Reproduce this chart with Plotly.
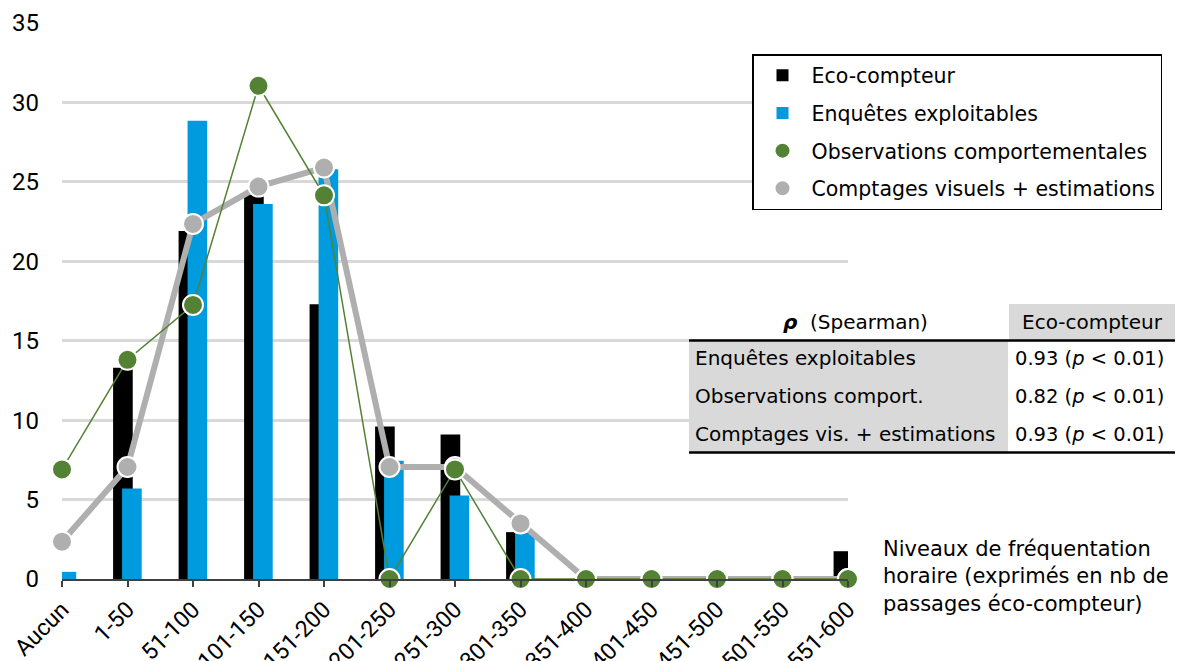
import plotly.graph_objects as go

categories = ["Aucun", "1-50", "51-100", "101-150", "151-200", "201-250", "251-300",
              "301-350", "351-400", "401-450", "451-500", "501-550", "551-600"]
eco_compteur = [0, 13.3, 21.9, 24.2, 17.3, 9.6, 9.1, 2.95, 0, 0, 0, 0, 1.75]
enquetes = [0.45, 5.7, 28.85, 23.6, 25.8, 7.45, 5.25, 2.9, 0, 0, 0, 0, 0]
observations = [6.9, 13.8, 17.25, 31.05, 24.15, 0, 6.9, 0, 0, 0, 0, 0, 0]
comptages = [2.35, 7.05, 22.35, 24.7, 25.9, 7.05, 7.05, 3.5, 0, 0, 0, 0, 0]

table_rows = ["Enquêtes exploitables", "Observations comport.", "Comptages vis. + estimations"]
table_rho = ["0.93", "0.82", "0.93"]
table_p = ["0.01", "0.01", "0.01"]

# page body has an 8px default margin: size the figure so it fits the window
OFF = 8
W, H = 1184 - OFF, 661 - OFF
L, R, T, B = 62, 848, 23, 579   # plot area in window pixels
FONT = "DejaVu Sans"
TICKFONT = "Roboto"
BLACK = "#000000"
BLUE = "#009ADE"
GREEN = "#548235"
GRAY = "#AFAFAF"


def px(x):
    return (x - L) / (R - L)


def py(y):
    return (B - y) / (B - T)


fig = go.Figure()
fig.add_trace(go.Bar(x=categories, y=eco_compteur, name="Eco-compteur",
                     marker=dict(color=BLACK, line=dict(width=0)),
                     width=0.30, offset=-0.22, legendrank=1, legendgroup="a"))
fig.add_trace(go.Bar(x=categories, y=enquetes, name="Enquêtes exploitables",
                     marker=dict(color=BLUE, line=dict(width=0)),
                     width=0.30, offset=-0.083, legendrank=2, legendgroup="b"))
fig.add_trace(go.Scatter(x=categories, y=comptages, mode="lines", showlegend=False,
                         line=dict(color=GRAY, width=6), legendgroup="d", cliponaxis=False))
fig.add_trace(go.Scatter(x=categories, y=observations, mode="lines", showlegend=False,
                         line=dict(color=GREEN, width=1.5), legendgroup="c", cliponaxis=False))
fig.add_trace(go.Scatter(x=categories, y=comptages, mode="markers",
                         name="Comptages visuels + estimations",
                         marker=dict(color=GRAY, size=20, line=dict(color="white", width=2)),
                         legendrank=4, legendgroup="d", cliponaxis=False))
fig.add_trace(go.Scatter(x=categories, y=observations, mode="markers",
                         name="Observations comportementales",
                         marker=dict(color=GREEN, size=20, line=dict(color="white", width=2)),
                         legendrank=3, legendgroup="c", cliponaxis=False))

shapes = []
shapes.append(dict(type="rect", xref="paper", yref="paper", x0=px(1009), x1=px(1175),
                   y0=py(340), y1=py(304), fillcolor="#D9D9D9", line=dict(width=0), layer="above"))
shapes.append(dict(type="rect", xref="paper", yref="paper", x0=px(689), x1=px(1008),
                   y0=py(452), y1=py(341), fillcolor="#D9D9D9", line=dict(width=0), layer="above"))
shapes.append(dict(type="line", xref="paper", yref="paper", x0=px(689), x1=px(1175),
                   y0=py(340.5), y1=py(340.5), line=dict(color="black", width=2.5), layer="above"))
shapes.append(dict(type="line", xref="paper", yref="paper", x0=px(689), x1=px(1175),
                   y0=py(452.5), y1=py(452.5), line=dict(color="black", width=2.5), layer="above"))

annotations = []
annotations.append(dict(xref="paper", yref="paper", x=px(855), y=py(322), xanchor="center",
                        yanchor="middle", showarrow=False,
                        text="<b><i>ρ</i></b>  (Spearman)", font=dict(family=FONT, size=20, color="black")))
annotations.append(dict(xref="paper", yref="paper", x=px(1092), y=py(322), xanchor="center",
                        yanchor="middle", showarrow=False,
                        text="Eco-compteur", font=dict(family=FONT, size=20, color="black")))
row_y = [358, 396, 434]
for name, rho, p, yy in zip(table_rows, table_rho, table_p, row_y):
    annotations.append(dict(xref="paper", yref="paper", x=px(693), y=py(yy), xanchor="left",
                            yanchor="middle", showarrow=False, text=name,
                            font=dict(family=FONT, size=20, color="black")))
    annotations.append(dict(xref="paper", yref="paper", x=px(1013), y=py(yy), xanchor="left",
                            yanchor="middle", showarrow=False,
                            text=f"{rho} (<i>p</i> &lt; {p})",
                            font=dict(family=FONT, size=19.5, color="black")))
annotations.append(dict(xref="paper", yref="paper", x=px(881), y=py(576), xanchor="left",
                        yanchor="middle", showarrow=False, align="left",
                        text="Niveaux de fréquentation<br>horaire (exprimés en nb de<br>passages éco-compteur)",
                        font=dict(family=FONT, size=21, color="black")))

fig.update_layout(
    width=W, height=H, autosize=False,
    margin=dict(l=L - OFF, r=W - (R - OFF), t=T - OFF, b=H - (B - OFF), pad=0, autoexpand=False),
    paper_bgcolor="white", plot_bgcolor="white",
    barmode="overlay",
    font=dict(family=FONT, size=21, color="black"),
    showlegend=True,
    legend=dict(x=px(752), y=py(54), xanchor="left", yanchor="top",
                bordercolor="black", borderwidth=1.5, bgcolor="white",
                font=dict(family=FONT, size=20.5, color="black"),
                traceorder="grouped", tracegroupgap=8, itemsizing="trace", itemwidth=48),
    xaxis=dict(range=[0, 12], type="category", showgrid=False, zeroline=False, automargin=False,
               showline=True, linecolor="#404040", linewidth=2,
               ticks="outside", ticklen=6, tickwidth=1.5, tickcolor="#404040",
               tickangle=-45, tickfont=dict(family=TICKFONT, size=23, color="black")),
    yaxis=dict(range=[0, 35], dtick=5, showgrid=True, gridcolor="#D9D9D9", gridwidth=2.5,
               zeroline=False, showline=False, ticks="", ticklabelstandoff=22, automargin=False,
               tickfont=dict(family=TICKFONT, size=24, color="black")),
    shapes=shapes, annotations=annotations,
)

fig.write_html("out.html")
